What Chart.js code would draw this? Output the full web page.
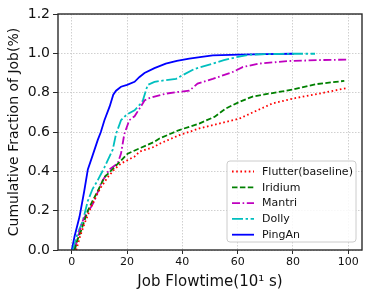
<!DOCTYPE html>
<html>
<head>
<meta charset="utf-8">
<script src="https://cdn.jsdelivr.net/npm/chart.js@4"></script>
<style>
  html, body { margin: 0; padding: 0; background: #fff; }
  #wrap { width: 374px; height: 298px; }
</style>
</head>
<body>
<div id="wrap"><canvas id="cdf"></canvas></div>
<script>
"use strict";

// x: job flowtime (10^1 s), y: cumulative fraction
const flutterX = [1.6, 3, 4.6, 7, 9, 10.6, 13, 15.4, 17.8, 22.7, 24.5, 29.9, 31.7, 38.9, 46.1, 53.3, 60.6, 66.6, 72.6, 80, 89.5, 99.7];
const flutterY = [0, 0.07, 0.135, 0.22, 0.28, 0.32, 0.37, 0.41, 0.44, 0.475, 0.50, 0.525, 0.54, 0.584, 0.618, 0.643, 0.668, 0.707, 0.745, 0.77, 0.795, 0.824];

const iridiumX = [1, 2, 3.4, 5.8, 7.5, 9.4, 11.8, 15.4, 20.2, 25, 29.9, 31.7, 38.9, 46.1, 51.6, 55.8, 60.6, 65.4, 72.6, 80, 88.3, 98.6];
const iridiumY = [0, 0.05, 0.1, 0.2, 0.25, 0.3, 0.37, 0.42, 0.49, 0.52, 0.55, 0.567, 0.61, 0.643, 0.677, 0.72, 0.753, 0.78, 0.798, 0.816, 0.843, 0.86];

const mantriX = [1, 2.5, 4, 5.5, 7, 8.2, 10.6, 13.6, 16.6, 17.8, 19, 20.8, 22.7, 25, 26.3, 27.5, 29.9, 34, 38, 42.5, 45.5, 51, 58.2, 61.8, 67.8, 78.7, 90, 100];
const mantriY = [0, 0.08, 0.15, 0.19, 0.22, 0.25, 0.34, 0.41, 0.44, 0.49, 0.59, 0.66, 0.68, 0.73, 0.76, 0.77, 0.78, 0.795, 0.803, 0.81, 0.846, 0.87, 0.905, 0.93, 0.948, 0.961, 0.966, 0.968];

const dollyX = [0.4, 2, 4, 5.8, 7.5, 9.4, 11.8, 14.8, 16, 17.8, 20, 22.7, 25, 25.7, 27, 27.5, 29.9, 33.5, 37.7, 40, 44.3, 51, 55, 59.4, 64, 70, 80, 88];
const dollyY = [0, 0.08, 0.15, 0.25, 0.31, 0.355, 0.42, 0.51, 0.59, 0.66, 0.69, 0.71, 0.745, 0.76, 0.82, 0.84, 0.855, 0.863, 0.87, 0.888, 0.92, 0.948, 0.965, 0.98, 0.993, 0.996, 0.998, 0.998];

const pingAnX = [0, 1, 2.8, 4.5, 5.8, 7.5, 9.4, 10.5, 11.8, 13.7, 15, 16, 17.8, 20, 22.7, 24.5, 26.3, 29.9, 34, 38, 42.5, 47, 51, 60.6, 70, 79.8, 80];
const pingAnY = [0, 0.07, 0.17, 0.3, 0.41, 0.48, 0.56, 0.6, 0.66, 0.73, 0.79, 0.81, 0.83, 0.84, 0.855, 0.88, 0.90, 0.925, 0.948, 0.962, 0.973, 0.982, 0.99, 0.993, 0.996, 0.998, 1.0];

const xTicks = [0, 20, 40, 60, 80, 100];

const zip = (xs, ys) => xs.map((x, i) => ({ x, y: ys[i] }));

const series = [
  { label: "Flutter(baseline)", x: flutterX, y: flutterY, color: "#ff0000", dash: [1.6, 2.6] },
  { label: "Iridium", x: iridiumX, y: iridiumY, color: "#008000", dash: [5.5, 2.4] },
  { label: "Mantri", x: mantriX, y: mantriY, color: "#bf00bf", dash: [8, 2.6, 1.6, 2.6] },
  { label: "Dolly", x: dollyX, y: dollyY, color: "#00bfbf", dash: [11, 2.6, 2.4, 2.6] },
  { label: "PingAn", x: pingAnX, y: pingAnY, color: "#0000ff", dash: [] },
];

const FONT = "'DejaVu Sans', sans-serif";

// axes frame on all four sides, like matplotlib spines
const frame = {
  id: "frame",
  afterDatasetsDraw(chart) {
    const { ctx, chartArea: a } = chart;
    ctx.save();
    ctx.strokeStyle = "#2b2b2b";
    ctx.lineWidth = 1.4;
    ctx.strokeRect(a.left, a.top, a.right - a.left, a.bottom - a.top);
    ctx.restore();
  },
};

// legend box in the lower right corner of the plot
const cornerLegend = {
  id: "cornerLegend",
  afterDraw(chart) {
    const { ctx, chartArea: a } = chart;
    const w = 129, h = 81;
    const x0 = a.right - 6 - w, y0 = a.bottom - 8 - h;
    ctx.save();
    ctx.beginPath();
    ctx.roundRect(x0, y0, w, h, 3);
    ctx.fillStyle = "rgba(255,255,255,0.85)";
    ctx.fill();
    ctx.strokeStyle = "#cccccc";
    ctx.lineWidth = 1;
    ctx.stroke();
    ctx.font = "11px " + FONT;
    ctx.textBaseline = "middle";
    chart.data.datasets.forEach((ds, i) => {
      const cy = y0 + 10.5 + i * 15.8;
      ctx.beginPath();
      ctx.setLineDash(ds.borderDash || []);
      ctx.strokeStyle = ds.borderColor;
      ctx.lineWidth = ds.borderWidth;
      ctx.moveTo(x0 + 5, cy);
      ctx.lineTo(x0 + 27, cy);
      ctx.stroke();
      ctx.setLineDash([]);
      ctx.fillStyle = "#111";
      ctx.fillText(ds.label, x0 + 35, cy + 0.5);
    });
    ctx.restore();
  },
};

new Chart(document.getElementById("cdf"), {
  type: "line",
  data: {
    datasets: series.map(s => ({
      label: s.label,
      data: zip(s.x, s.y),
      borderColor: s.color,
      backgroundColor: s.color,
      borderDash: s.dash,
      borderWidth: 1.8,
      borderCapStyle: "butt",
      pointRadius: 0,
      tension: 0,
      fill: false,
    })),
  },
  options: {
    responsive: true,
    maintainAspectRatio: false,
    animation: false,
    events: [],
    layout: { padding: { left: 0, right: 12, top: 14, bottom: 0 } },
    plugins: { legend: { display: false }, tooltip: { enabled: false } },
    scales: {
      x: {
        type: "linear",
        min: -5,
        max: 105,
        afterBuildTicks: (s) => { s.ticks = xTicks.map(v => ({ value: v })); },
        afterFit: (s) => { s.height = 48; },
        ticks: { color: "#111", font: { family: FONT, size: 11 }, padding: 2, maxRotation: 0 },
        grid: { color: "#c4c4c4", lineWidth: 0.8, tickColor: "#2b2b2b", tickLength: 4, tickWidth: 1 },
        border: { display: false, dash: [1.5, 1.5] },
        title: { display: true, text: "Job Flowtime(10¹ s)", color: "#111", font: { family: FONT, size: 15 }, padding: { top: 0, bottom: 7 } },
      },
      y: {
        type: "linear",
        min: 0,
        max: 1.2,
        afterBuildTicks: (s) => { s.ticks = [0, 0.2, 0.4, 0.6, 0.8, 1.0, 1.2].map(v => ({ value: v })); },
        afterFit: (s) => { s.width = 58; },
        ticks: { color: "#111", font: { family: FONT, size: 14 }, padding: 3, callback: (v) => v.toFixed(1) },
        grid: { color: "#c4c4c4", lineWidth: 0.8, tickColor: "#2b2b2b", tickLength: 5, tickWidth: 1 },
        border: { display: false, dash: [1.5, 1.5] },
        title: { display: true, text: "Cumulative Fraction of Job(%)", color: "#111", font: { family: FONT, size: 14 }, padding: { top: 6, bottom: 0 } },
      },
    },
  },
  plugins: [frame, cornerLegend],
});
</script>
</body>
</html>
